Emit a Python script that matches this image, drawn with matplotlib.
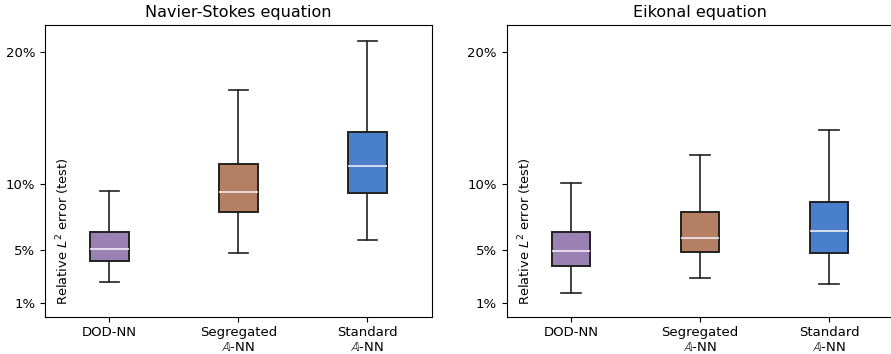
import matplotlib.pyplot as plt

# box statistics, in percent
methods = ['DOD-NN', 'Segregated\n$\\mathbb{A}$-NN', 'Standard\n$\\mathbb{A}$-NN']
colors = ['#9b80b4', '#b47f62', '#4a7fcc']

ns_low = [2.64, 4.77, 5.81]
ns_q1 = [4.22, 7.89, 9.35]
ns_med = [5.13, 9.38, 11.34]
ns_q3 = [6.39, 11.54, 13.96]
ns_high = [9.48, 17.08, 20.83]

eik_low = [1.81, 2.91, 2.43]
eik_q1 = [3.84, 4.90, 4.80]
eik_med = [4.95, 5.96, 6.44]
eik_q3 = [6.39, 7.89, 8.62]
eik_high = [10.11, 12.17, 14.11]

yticks = [1, 5, 10, 20]


def make_stats(low, q1, med, q3, high):
    stats = []
    for i in range(len(low)):
        stats.append({'whislo': low[i], 'q1': q1[i], 'med': med[i],
                      'q3': q3[i], 'whishi': high[i], 'fliers': []})
    return stats


def draw_panel(ax, stats, title):
    bp = ax.bxp(stats, positions=[1, 2, 3], widths=0.3, patch_artist=True,
                showfliers=False,
                boxprops=dict(edgecolor='#222222', linewidth=1.4),
                whiskerprops=dict(color='#222222', linewidth=1.2),
                capprops=dict(color='#222222', linewidth=1.2),
                medianprops=dict(color='#f0eaf4', linewidth=1.2))
    for patch, c in zip(bp['boxes'], colors):
        patch.set_facecolor(c)
    ax.set_xlim(0.5, 3.5)
    ax.set_ylim(0, 22)
    ax.set_yticks(yticks)
    ax.set_yticklabels([f'{t}%' for t in yticks])
    ax.set_xticks([1, 2, 3])
    ax.set_xticklabels(methods)
    ax.tick_params(labelsize=9.5)
    ax.set_title(title, fontsize=11.5)
    ax.text(0.047, 0.04, 'Relative $L^2$ error (test)', transform=ax.transAxes,
            rotation=90, ha='center', va='bottom', fontsize=9.4)


fig = plt.figure(figsize=(8.91, 3.54), dpi=100)
ax1 = fig.add_axes([45 / 891, 37.3 / 354, 386.7 / 891, 291.7 / 354])
ax2 = fig.add_axes([506.7 / 891, 37.3 / 354, 386.7 / 891, 291.7 / 354])

draw_panel(ax1, make_stats(ns_low, ns_q1, ns_med, ns_q3, ns_high), 'Navier-Stokes equation')
draw_panel(ax2, make_stats(eik_low, eik_q1, eik_med, eik_q3, eik_high), 'Eikonal equation')

fig.savefig('out.png', dpi=100)
